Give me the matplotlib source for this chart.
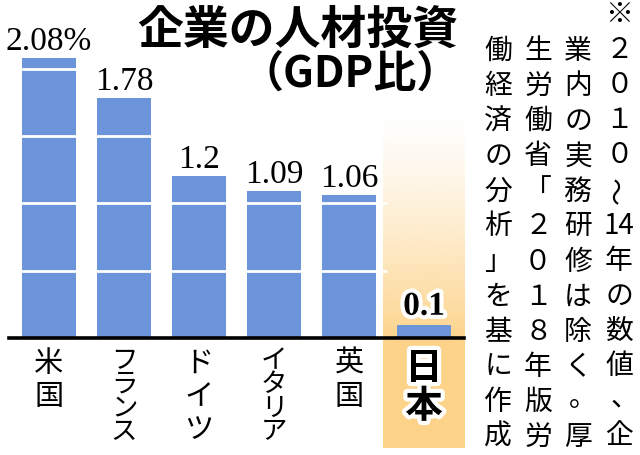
import numpy as np
import matplotlib
matplotlib.use("Agg")
import matplotlib.pyplot as plt
import matplotlib.patheffects as pe

plt.rcParams['font.family'] = ['Noto Sans CJK JP', 'DejaVu Sans']

countries = ["米国", "フランス", "ドイツ", "イタリア", "英国", "日本"]
values = [2.08, 1.78, 1.2, 1.09, 1.06, 0.1]
value_labels = ["2.08%", "1.78", "1.2", "1.09", "1.06", "0.1"]
grid_levels = [0.5, 1.0, 1.5, 2.0]
title = "企業の人材投資"
subtitle = "（GDP比）"
note_columns = [
    ["※", "２", "０", "１", "０", "～", "14", "年", "の", "数", "値", "、", "企"],
    ["業", "内", "の", "実", "務", "研", "修", "は", "除", "く", "。", "厚"],
    ["生", "労", "働", "省", "「", "２", "０", "１", "８", "年", "版", "労"],
    ["働", "経", "済", "の", "分", "析", "」", "を", "基", "に", "作", "成"],
]

W, H = 640, 455
bar_color = "#6c94da"
band_color = np.array([253, 211, 138]) / 255

fig = plt.figure(figsize=(W / 100, H / 100), dpi=100)
# axes: baseline at y=338px, 134.6 px per unit, 75 px per category
base_px = 338
ax = fig.add_axes([9 / W, (H - base_px) / H, 455 / W, base_px / H])
ax.set_facecolor("none")

x = np.arange(len(countries))
japan = len(countries) - 1

# orange gradient band behind Japan (white at top, solid orange at bottom)
rows = 200
alpha = np.clip(np.linspace(0, 1.45, rows), 0, 1) ** 1.3
grad = np.zeros((rows, 1, 4))
grad[..., :3] = band_color
grad[:, 0, 3] = alpha
ax.imshow(grad, extent=[japan - 0.55, japan + 0.535, -0.82, 1.69],
          origin="upper", aspect="auto", clip_on=False, zorder=0,
          interpolation="bilinear")

ax.bar(x, values, width=0.72, color=bar_color, zorder=2)
ax.hlines(grid_levels, -0.5, japan - 0.5, color="white", lw=2, zorder=3)

ax.set_xlim(-0.533, 5.533)
ax.set_ylim(0, base_px / 134.6)
for s in ["top", "left", "right"]:
    ax.spines[s].set_visible(False)
ax.spines["bottom"].set_linewidth(2.6)
ax.spines["bottom"].set_zorder(5)
ax.set_xticks([])
ax.set_yticks([])

# value labels
for i, (v, lab) in enumerate(zip(values, value_labels)):
    if i == japan:
        ax.annotate(lab, (i, v), xytext=(0, 2), textcoords="offset points",
                    ha="center", va="bottom", fontsize=24, fontweight="bold",
                    family="Liberation Serif", zorder=6,
                    path_effects=[pe.withStroke(linewidth=6, foreground="white")])
    else:
        ax.annotate(lab, (i, v), xytext=(0, 1), textcoords="offset points",
                    ha="center", va="bottom", fontsize=24,
                    family="Liberation Serif", zorder=6)

# vertical category labels
for i, name in enumerate(countries):
    if i == japan:
        step, start, fs, kw = 38, 30, 27, dict(fontweight="bold",
            path_effects=[pe.withStroke(linewidth=6, foreground="white")])
    elif len(name) > 3:
        step, start, fs, kw = 23.5, 23, 19, {}
    else:
        step, start, fs, kw = 33, 26, 21, {}
    for k, ch in enumerate(name):
        ax.annotate(ch, (i, 0), xytext=(0, -(start + k * step) * 0.72),
                    textcoords="offset points", ha="center", va="center",
                    fontsize=fs, annotation_clip=False, **kw)

# title
fig.text(458 / W, 1 - 31 / H, title, ha="right", va="center",
         fontsize=33, fontweight="bold")
fig.text(460 / W, 1 - 74 / H, subtitle, ha="right", va="center",
         fontsize=31, fontweight="bold")

# vertical note (right to left)
col_x = [619, 578, 538, 498]
col_y0 = [15, 51, 51, 51]
step = 35.1
for cx, y0, cells in zip(col_x, col_y0, note_columns):
    for k, ch in enumerate(cells):
        px, py, rot = cx, y0 + k * step, 0
        if ch == "～":
            rot = 90
        if ch in "、。":
            px, py = cx + 5, py - 4
        fig.text(px / W, 1 - py / H, ch, ha="center", va="center",
                 fontsize=20, rotation=rot)

fig.savefig("out.png", dpi=100)
